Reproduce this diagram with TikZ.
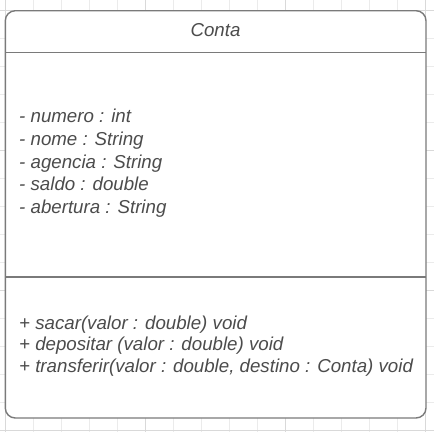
\documentclass[tikz,border=0pt]{standalone}
\usepackage{fontspec}
\setmainfont{Liberation Sans}
\begin{document}
\begin{tikzpicture}[x=1pt,y=-1pt,
  gridminor/.style={draw=black!8,line width=0.8pt},
  gridmajor/.style={draw=black!15,line width=0.8pt},
  umlborder/.style={draw=black!52,line width=1.4pt},
  umltext/.style={font=\fontsize{18.7}{21}\selectfont\itshape,text=black!70,inner sep=0pt,anchor=base west}]
\useasboundingbox (0,0) rectangle (434,432);
\fill[white] (0,0) rectangle (434,432);
% grid
\foreach \k in {0,...,15}{
  \pgfmathtruncatemacro{\m}{mod(\k,5)}
  \ifnum\m=0
    \draw[gridmajor] ({5.3+28*\k},0) -- ({5.3+28*\k},432);
    \draw[gridmajor] (0,{10.7+28*\k}) -- (434,{10.7+28*\k});
  \else
    \draw[gridminor] ({5.3+28*\k},0) -- ({5.3+28*\k},432);
    \draw[gridminor] (0,{10.7+28*\k}) -- (434,{10.7+28*\k});
  \fi
}
% class box
\draw[umlborder,fill=white,rounded corners=10pt] (5.3,10.7) rectangle (426,418);
\coordinate (hl) at (5.3,52.5);
\coordinate (hr) at (426,52.5);
\coordinate (sl) at (5.3,277);
\coordinate (sr) at (426,277);
\draw[umlborder] (hl) -- (hr);
\draw[umlborder] (sl) -- (sr);
% title
\node[umltext,anchor=base] (title) at (215.5,36) {Conta};
% attributes
\node[umltext] (a1) at (19,122) {- numero : int};
\node[umltext] (a2) at (19,145) {- nome : String};
\node[umltext] (a3) at (19,168) {- agencia : String};
\node[umltext] (a4) at (19,190.5) {- saldo : double};
\node[umltext] (a5) at (19,213) {- abertura : String};
% methods
\node[umltext] (m1) at (19,329) {+ sacar(valor : double) void};
\node[umltext] (m2) at (19,350.5) {+ depositar (valor : double) void};
\node[umltext] (m3) at (19,372) {+ transferir(valor : double, destino : Conta) void};
\end{tikzpicture}
\end{document}
